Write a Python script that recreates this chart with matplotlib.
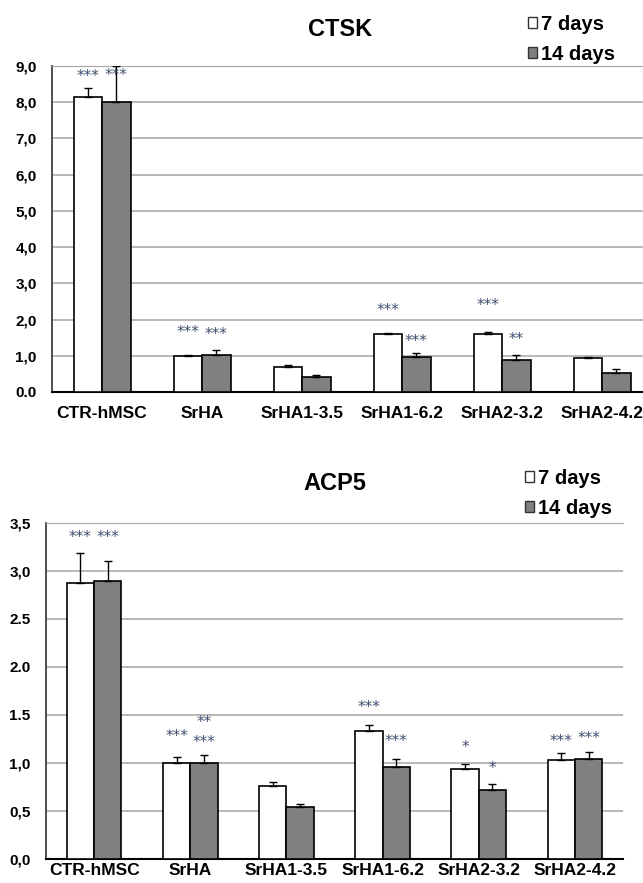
import numpy as np
import matplotlib
matplotlib.use("Agg")
from matplotlib import pyplot as plt
from matplotlib.patches import Patch

plt.rcParams['font.family'] = ['Liberation Sans', 'DejaVu Sans']

groups = ["CTR-hMSC", "SrHA", "SrHA1-3.5", "SrHA1-6.2", "SrHA2-3.2", "SrHA2-4.2"]
series = ["7 days", "14 days"]

# CTSK
ctsk_7 = [8.14, 0.99, 0.68, 1.59, 1.59, 0.95]
ctsk_7_err = [0.25, 0.03, 0.07, 0.04, 0.06, 0.02]
ctsk_14 = [8.00, 1.02, 0.41, 0.96, 0.88, 0.52]
ctsk_14_err = [1.01, 0.15, 0.06, 0.12, 0.14, 0.11]
ctsk_ticks = [0, 1, 2, 3, 4, 5, 6, 7, 8, 9]
ctsk_ticklabels = ["0.0", "1,0", "2,0", "3,0", "4,0", "5,0", "6,0", "7,0", "8,0", "9,0"]
# (group, series, text, y)
ctsk_stars = [(0, 0, "***", 8.70), (0, 1, "***", 8.75),
              (1, 0, "***", 1.64), (1, 1, "***", 1.58),
              (3, 0, "***", 2.24), (3, 1, "***", 1.39),
              (4, 0, "***", 2.38), (4, 1, "**", 1.44)]

# ACP5
acp5_7 = [2.875, 1.00, 0.76, 1.33, 0.94, 1.03]
acp5_7_err = [0.315, 0.06, 0.04, 0.07, 0.05, 0.07]
acp5_14 = [2.90, 1.00, 0.54, 0.96, 0.72, 1.04]
acp5_14_err = [0.20, 0.08, 0.03, 0.08, 0.06, 0.07]
acp5_ticks = [0, 0.5, 1.0, 1.5, 2.0, 2.5, 3.0, 3.5]
acp5_ticklabels = ["0,0", "0,5", "1,0", "1.5", "2.0", "2.5", "3,0", "3,5"]
acp5_stars = [(0, 0, "***", 3.35), (0, 1, "***", 3.35),
              (1, 0, "***", 1.28), (1, 1, "**", 1.42), (1, 1, "***", 1.21),
              (3, 0, "***", 1.58), (3, 1, "***", 1.22),
              (4, 0, "*", 1.16), (4, 1, "*", 0.94),
              (5, 0, "***", 1.22), (5, 1, "***", 1.26)]

W, H = 643, 883
fig = plt.figure(figsize=(W / 100, H / 100), dpi=100)

bw = 0.285
star_color = "#3f4d6e"


def panel(rect, title, title_xy, leg_xy, v7, e7, v14, e14, ticks, ticklabels, ymax, stars, xpad):
    ax = fig.add_axes(rect)
    x = np.arange(len(groups))
    ax.bar(x - bw / 2, v7, bw, color="white", edgecolor="black", linewidth=1.2, zorder=3)
    ax.bar(x + bw / 2, v14, bw, color="#808080", edgecolor="black", linewidth=1.2, zorder=3)
    ax.errorbar(x - bw / 2, v7, yerr=[np.zeros(len(e7)), e7], fmt="none",
                ecolor="black", elinewidth=1, capsize=3, capthick=1, zorder=4)
    ax.errorbar(x + bw / 2, v14, yerr=[np.zeros(len(e14)), e14], fmt="none",
                ecolor="black", elinewidth=1, capsize=3, capthick=1, zorder=4)
    for g, s, txt, y in stars:
        xs = g - bw / 2 if s == 0 else g + bw / 2
        ax.text(xs, y, txt, ha="center", va="center", fontsize=11,
                color=star_color, family="DejaVu Sans", zorder=5)
    ax.set_xlim(-0.5, len(groups) - 0.5)
    ax.set_ylim(0, ymax)
    ax.set_yticks(ticks)
    ax.set_yticklabels(ticklabels, fontsize=11, fontweight="bold")
    ax.set_xticks(x)
    ax.set_xticklabels(groups, fontsize=12.5, fontweight="bold")
    ax.tick_params(axis="y", length=0, pad=11)
    ax.tick_params(axis="x", length=0, pad=xpad)
    ax.yaxis.grid(True, color="#a6a6a6", linewidth=1.1, zorder=0)
    ax.set_axisbelow(True)
    ax.spines["top"].set_color("#a6a6a6")
    ax.spines["right"].set_visible(False)
    ax.spines["left"].set_color("#404040")
    ax.spines["bottom"].set_color("black")
    ax.spines["left"].set_linewidth(1.3)
    ax.spines["bottom"].set_linewidth(1.5)
    fig.text(title_xy[0] / W, 1 - title_xy[1] / H, title, ha="center", va="center",
             fontsize=17, fontweight="bold")
    handles = [Patch(facecolor="white", edgecolor="#333333", linewidth=1),
               Patch(facecolor="#808080", edgecolor="#333333", linewidth=1)]
    fig.legend(handles, series, loc="upper left",
               bbox_to_anchor=(leg_xy[0] / W, 1 - leg_xy[1] / H),
               frameon=False, prop={"size": 14.5, "weight": "bold"},
               handlelength=0.45, handleheight=0.45, handletextpad=0.2,
               labelspacing=0.55, borderpad=0, borderaxespad=0)
    return ax


panel([52 / W, 1 - 392 / H, 600 / W, 326 / H], "CTSK", (340, 29), (528, 15),
      ctsk_7, ctsk_7_err, ctsk_14, ctsk_14_err, ctsk_ticks, ctsk_ticklabels, 9, ctsk_stars, 10)
panel([46 / W, 1 - 859 / H, 577 / W, 336 / H], "ACP5", (335, 484), (525, 469),
      acp5_7, acp5_7_err, acp5_14, acp5_14_err, acp5_ticks, acp5_ticklabels, 3.5, acp5_stars, 3)

fig.savefig("out.png", dpi=100)
